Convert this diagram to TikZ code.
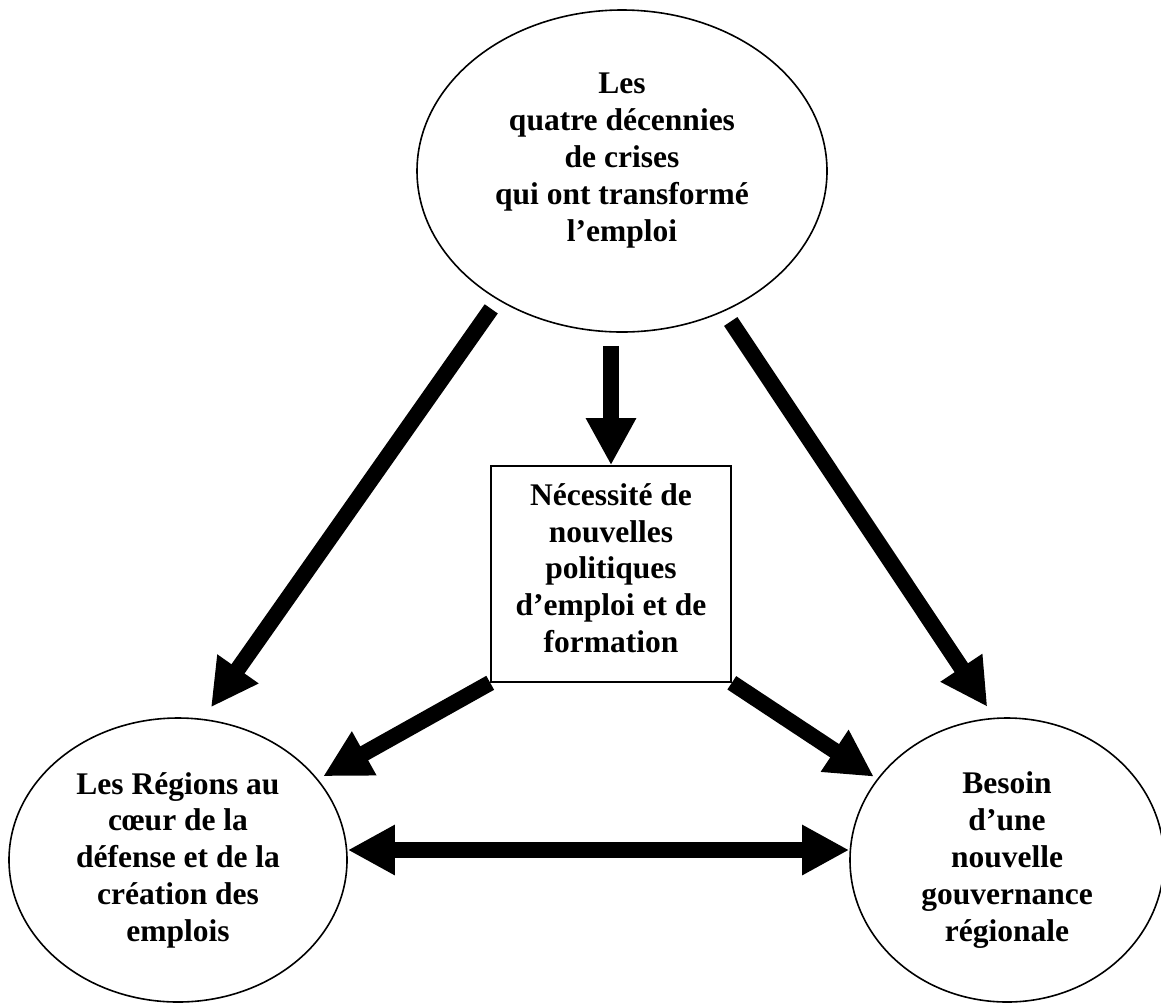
\documentclass[tikz,border=0pt]{standalone}
\usepackage{fontspec}
\setmainfont{Liberation Serif}
\usepackage{tikz}
\usetikzlibrary{shapes, arrows.meta}

\begin{document}
\begin{tikzpicture}[x=1pt, y=-1pt,
	bulle/.style={draw, ellipse, line width=1.6pt, align=center, inner sep=0pt},
	cadre/.style={draw, rectangle, line width=1.6pt, minimum width=240pt, minimum height=216pt, inner sep=0pt},
	texte/.style={align=center, font=\fontsize{31.5}{36.8}\selectfont\bfseries},
	fleche/.style={line width=16pt, -{Triangle[length=47pt, width=47pt]}},
	fleches/.style={line width=16pt, {Triangle[length=47pt, width=47pt]}-{Triangle[length=47pt, width=47pt]}}]
		\useasboundingbox (0,0) rectangle (1161,1005);
		\node[bulle, minimum width=410pt, minimum height=322pt] (crises) at (622,171) {};
		\node[texte] (crisestxt) at ([yshift=10.5pt]crises.center) {Les\\quatre décennies\\de crises\\qui ont transformé\\l’emploi};
		\node[cadre] (politiques) at (611,574) {};
		\node[texte] (politiquestxt) at ([yshift=6pt]politiques.center) {Nécessité de\\nouvelles\\politiques\\d’emploi et de\\formation};
		\node[bulle, texte, minimum width=338pt, minimum height=284pt] (regions) at (178,860) {Les Régions au\\cœur de la\\défense et de la\\création des\\emplois};
		\node[bulle, texte, minimum width=314pt, minimum height=284pt] (besoin) at (1007,860) {Besoin\\d’une\\nouvelle\\gouvernance\\régionale};
		\draw[fleche, shorten <=11pt, shorten >=14pt] (crises.226) -- (regions.80);
		\draw[fleche, shorten <=13pt] (politiques.north |- crises.south) -- (politiques.north);
		\draw[fleche, shorten <=12pt, shorten >=13pt] (crises.306) -- (besoin.95);
		\draw[fleche, shorten >=6pt] (politiques.south west) -- (regions.30);
		\draw[fleche, shorten >=4pt] (politiques.south east) -- (besoin.148);
		\draw[fleches] ([yshift=10pt]regions.east) -- ([yshift=10pt]besoin.west);
		\end{tikzpicture}
\end{document}
